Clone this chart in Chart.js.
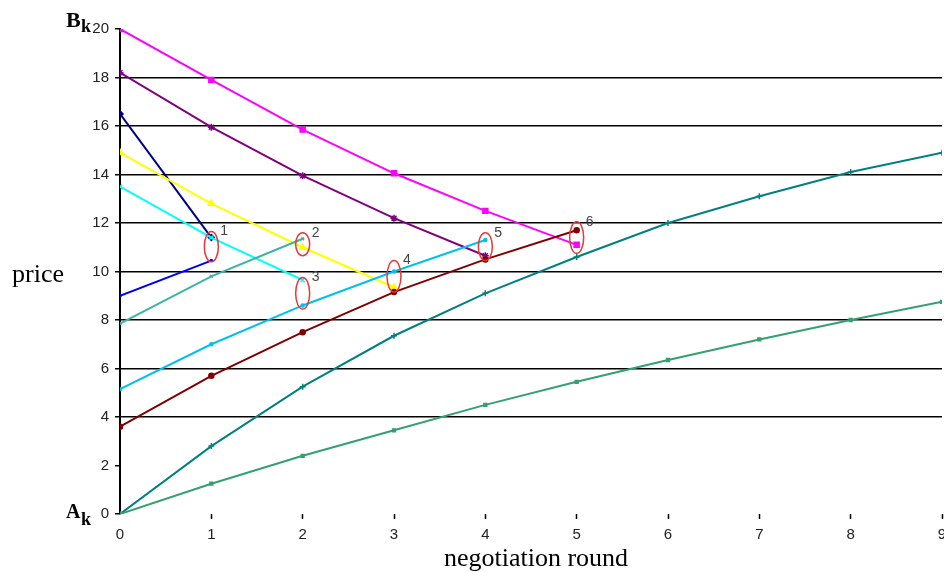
<!DOCTYPE html>
<html>
<head>
<meta charset="utf-8">
<script src="https://cdn.jsdelivr.net/npm/chart.js@4"></script>
<style>
  body { margin: 0; background: #fff; }
  canvas { display: block; }
</style>
</head>
<body>
<canvas id="chart" width="944" height="572"></canvas>
<script>
// negotiation rounds and tick values
var rounds = [0, 1, 2, 3, 4, 5, 6, 7, 8, 9];
var xTicks = [0, 1, 2, 3, 4, 5, 6, 7, 8, 9];
var yTicks = [0, 2, 4, 6, 8, 10, 12, 14, 16, 18, 20];

// price offers per round
var sellerMagenta = [20, 17.9, 15.85, 14.05, 12.5, 11.1];
var sellerPurple = [18.2, 15.95, 13.95, 12.2, 10.65];
var sellerNavy = [16.5, 11.4];
var buyerBlue = [9.0, 10.45];
var sellerYellow = [14.9, 12.8, 11.0, 9.35];
var sellerCyan = [13.5, 11.4, 9.65];
var buyerTurquoise = [7.85, 9.8, 11.35];
var buyerSky = [5.15, 7.0, 8.6, 10.0, 11.3];
var buyerMaroon = [3.6, 5.7, 7.5, 9.15, 10.5, 11.7];
var buyerTeal = [0, 2.8, 5.25, 7.35, 9.1, 10.6, 12.0, 13.1, 14.1, 14.9];
var buyerGreen = [0, 1.25, 2.4, 3.45, 4.5, 5.45, 6.35, 7.2, 8.0, 8.75];

// agreement marks (red ellipses)
var markRound = [1, 2, 2, 3, 4, 5];
var markLow = [10.4, 10.65, 8.45, 9.15, 10.45, 10.75];
var markHigh = [11.65, 11.6, 9.75, 10.45, 11.6, 12.05];
var markLabels = ['1', '2', '3', '4', '5', '6'];

function series(values, color, style, radius) {
    return {
        data: values.map(function (v, i) { return { x: rounds[i], y: v }; }),
        borderColor: color,
        backgroundColor: color,
        borderWidth: 2,
        pointStyle: style,
        pointRadius: radius,
        pointBorderWidth: 1.5,
        tension: 0,
        fill: false
    };
}

var annotate = {
    id: 'annotate',
    afterDatasetsDraw: function (chart) {
        var ctx = chart.ctx;
        var xs = chart.scales.x, ys = chart.scales.y;
        ctx.save();
        // ellipses + numbers
        for (var i = 0; i < markRound.length; i++) {
            var cx = xs.getPixelForValue(markRound[i]);
            var top = ys.getPixelForValue(markHigh[i]);
            var bot = ys.getPixelForValue(markLow[i]);
            ctx.beginPath();
            ctx.ellipse(cx, (top + bot) / 2, 7, (bot - top) / 2, 0, 0, Math.PI * 2);
            ctx.strokeStyle = '#e83838';
            ctx.lineWidth = 1.5;
            ctx.stroke();
            ctx.fillStyle = '#444';
            ctx.font = '14px "Liberation Sans", Arial, sans-serif';
            ctx.textAlign = 'left';
            ctx.textBaseline = 'middle';
            ctx.fillText(markLabels[i], cx + 9, top);
        }
        ctx.restore();
    },
    afterDraw: function (chart) {
        var ctx = chart.ctx;
        var ys = chart.scales.y;
        ctx.save();
        ctx.fillStyle = '#000';
        ctx.textBaseline = 'alphabetic';
        ctx.textAlign = 'left';
        ctx.font = '26px "Liberation Serif", "Times New Roman", serif';
        ctx.fillText('price', 12, ys.getPixelForValue(10) + 10);
        ctx.textAlign = 'center';
        ctx.fillText('negotiation round', 536, 566);

        ctx.textAlign = 'left';
        var yTop = ys.getPixelForValue(20);
        var yBot = ys.getPixelForValue(0);
        ctx.font = 'bold 22px "Liberation Serif", "Times New Roman", serif';
        ctx.fillText('B', 66, yTop - 2);
        ctx.font = 'bold 18px "Liberation Serif", "Times New Roman", serif';
        ctx.fillText('k', 81, yTop + 3);
        ctx.font = 'bold 20px "Liberation Serif", "Times New Roman", serif';
        ctx.fillText('A', 66, yBot + 4);
        ctx.font = 'bold 18px "Liberation Serif", "Times New Roman", serif';
        ctx.fillText('k', 81, yBot + 11);
        ctx.restore();
    }
};

var tickFont = { family: '"Liberation Sans", Arial, sans-serif', size: 15 };

new Chart(document.getElementById('chart').getContext('2d'), {
    type: 'line',
    data: {
        datasets: [
            series(buyerGreen, '#33a070', 'rect', 2),
            series(buyerTeal, '#008080', 'cross', 3),
            series(buyerMaroon, '#800000', 'circle', 2.5),
            series(buyerSky, '#00c0f0', 'circle', 1.5),
            series(buyerTurquoise, '#3cb4a4', 'crossRot', 2),
            series(sellerCyan, '#00ffff', 'crossRot', 3),
            series(sellerYellow, '#ffff00', 'triangle', 3.5),
            series(buyerBlue, '#0000ff', 'circle', 1),
            series(sellerNavy, '#000080', 'rectRot', 3),
            series(sellerPurple, '#800080', 'star', 3.5),
            series(sellerMagenta, '#ff00ff', 'rect', 3.5)
        ]
    },
    options: {
        responsive: false,
        animation: false,
        layout: { autoPadding: false, padding: { top: 29, right: 2, left: 0, bottom: 0 } },
        plugins: {
            legend: { display: false },
            tooltip: { enabled: false }
        },
        scales: {
            x: {
                type: 'linear',
                min: 0,
                max: 9,
                afterBuildTicks: function (scale) {
                    scale.ticks = xTicks.map(function (v) { return { value: v }; });
                },
                afterFit: function (scale) {
                    scale.height = 58;
                    scale.paddingLeft = 0;
                    scale.paddingRight = 0;
                },
                border: { display: false },
                grid: {
                    drawOnChartArea: false,
                    tickLength: 5,
                    tickWidth: 1.5,
                    tickColor: function (c) { return c.tick && c.tick.value === 0 ? 'rgba(0,0,0,0)' : '#000'; }
                },
                ticks: {
                    autoSkip: false,
                    maxRotation: 0,
                    padding: 7,
                    color: '#222',
                    font: tickFont
                }
            },
            y: {
                min: 0,
                max: 20,
                afterBuildTicks: function (scale) {
                    scale.ticks = yTicks.map(function (v) { return { value: v }; });
                },
                afterFit: function (scale) {
                    scale.width = 120;
                    scale.paddingTop = 0;
                    scale.paddingBottom = 0;
                },
                border: { display: true, color: '#000', width: 2 },
                grid: {
                    lineWidth: 1.5,
                    tickLength: 5,
                    tickColor: '#000',
                    color: function (c) {
                        var v = c.tick ? c.tick.value : 0;
                        return (v >= 4 && v <= 18) ? '#000' : 'rgba(0,0,0,0)';
                    }
                },
                ticks: {
                    padding: 6,
                    color: '#222',
                    font: tickFont
                }
            }
        }
    },
    plugins: [annotate]
});
</script>
</body>
</html>
